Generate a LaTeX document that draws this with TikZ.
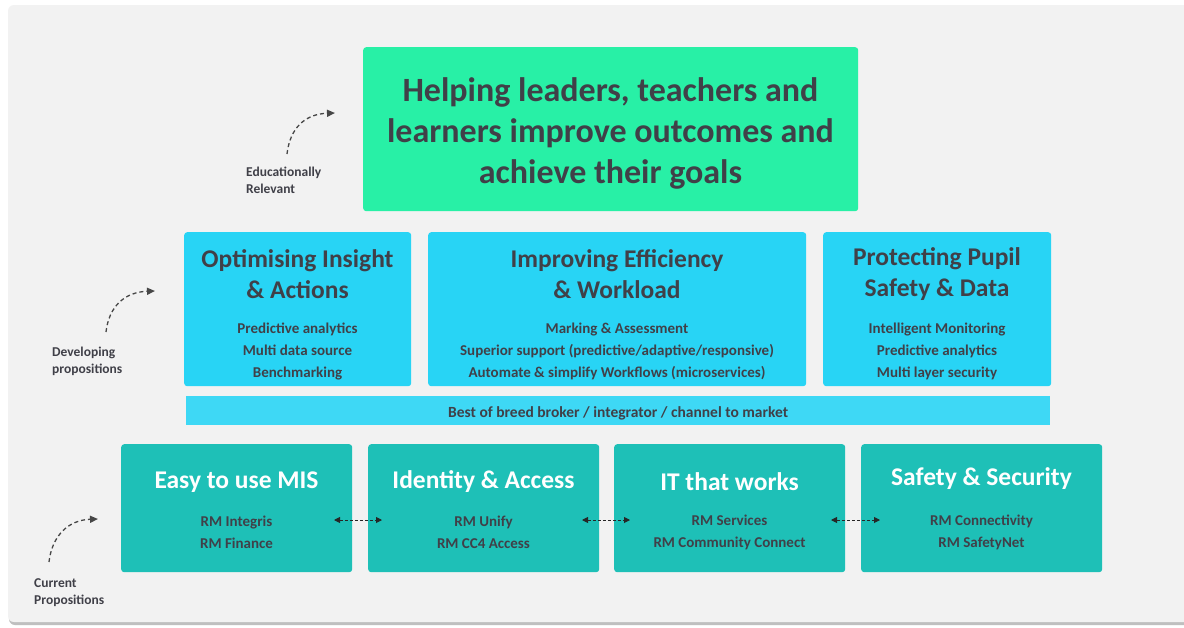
\documentclass[tikz,border=0pt]{standalone}
\usepackage{fontspec}
\setmainfont{Carlito}
\usetikzlibrary{arrows.meta,shadows}
\definecolor{bgpanel}{RGB}{242,242,242}
\definecolor{topgreen}{RGB}{40,240,166}
\definecolor{midcyan}{RGB}{40,212,245}
\definecolor{bandcyan}{RGB}{62,216,245}
\definecolor{teal}{RGB}{30,192,183}
\definecolor{txt}{RGB}{64,64,72}
\tikzset{
  box/.style={rounded corners=3pt, inner sep=0pt, draw=none},
  topbox/.style={box, fill=topgreen},
  midbox/.style={box, fill=midcyan},
  botbox/.style={box, fill=teal},
  bigtxt/.style={font=\bfseries\fontsize{34}{41}\selectfont, text=txt, align=center},
  midtitle/.style={font=\bfseries\fontsize{25.5}{31}\selectfont, text=txt, align=center},
  subtxt/.style={font=\bfseries\fontsize{15}{22}\selectfont, text=txt, align=center},
  bandtxt/.style={font=\bfseries\fontsize{15.5}{22}\selectfont, text=txt, align=center},
  bottitle/.style={font=\bfseries\fontsize{25.5}{28}\selectfont, text=white, align=center},
  lbl/.style={font=\bfseries\fontsize{13.5}{17}\selectfont, text=txt, align=left, anchor=north west, inner sep=0pt},
  curvarrow/.style={dash pattern=on 4pt off 3pt, line width=1.3pt, color=black!72, -{Triangle[length=8pt,width=7pt]}},
  dblarrow/.style={densely dashed, line width=0.9pt, color=black!85, {Triangle[length=6pt,width=6pt]}-{Triangle[length=6pt,width=6pt]}}
}
\begin{document}
\begin{tikzpicture}[x=1pt,y=-1pt]
\useasboundingbox (0,0) rectangle (1184,627);
\fill[white] (0,0) rectangle (1184,627);
% background panel with shadow
\fill[black!25, rounded corners=6pt] (9,7) rectangle (1190,625);
\fill[bgpanel, rounded corners=6pt] (8,5) rectangle (1190,622);

% top box
\node[topbox, minimum width=495pt, minimum height=164pt, anchor=north west] (top) at (363,47) {};
\node[bigtxt] (toptxt) at (610.5,133) {Helping leaders, teachers and\\learners improve outcomes and\\achieve their goals};

% middle boxes
\node[midbox, minimum width=227pt, minimum height=154pt, anchor=north west] (m1) at (184,232) {};
\node[midbox, minimum width=378pt, minimum height=154pt, anchor=north west] (m2) at (428,232) {};
\node[midbox, minimum width=228pt, minimum height=154pt, anchor=north west] (m3) at (823,232) {};
\node[midtitle] (m1t) at (297.5,274.5) {Optimising Insight\\\& Actions};
\node[midtitle] (m2t) at (617,274.5) {Improving Efficiency\\\& Workload};
\node[midtitle] (m3t) at (937,274.5) {Protecting Pupil\\Safety \& Data};
\node[subtxt] (m1s) at (297.5,351) {Predictive analytics\\Multi data source\\Benchmarking};
\node[subtxt] (m2s) at (617,351) {Marking \& Assessment\\Superior support (predictive/adaptive/responsive)\\Automate \& simplify Workflows (microservices)};
\node[subtxt] (m3s) at (937,351) {Intelligent Monitoring\\Predictive analytics\\Multi layer security};

% band
\node[fill=bandcyan, minimum width=864pt, minimum height=29pt, inner sep=0pt, anchor=north west] (band) at (186,396) {};
\node[bandtxt] (bandt) at ([yshift=-2.5pt]band.center) {Best of breed broker / integrator / channel to market};

% bottom boxes
\node[botbox, minimum width=231pt, minimum height=128pt, anchor=north west] (b1) at (121,444) {};
\node[botbox, minimum width=231pt, minimum height=128pt, anchor=north west] (b2) at (368,444) {};
\node[botbox, minimum width=231pt, minimum height=128pt, anchor=north west] (b3) at (614,444) {};
\node[botbox, minimum width=241pt, minimum height=128pt, anchor=north west] (b4) at (861,444) {};
\node[bottitle] (b1t) at (236.5,482) {Easy to use MIS};
\node[bottitle] (b2t) at (483.5,482) {Identity \& Access};
\node[bottitle] (b3t) at (729.5,482) {IT that works};
\node[bottitle] (b4t) at (981.5,479) {Safety \& Security};
\node[subtxt] (b1s) at (236.5,532.5) {RM Integris\\RM Finance};
\node[subtxt] (b2s) at (483.5,532.5) {RM Unify\\RM CC4 Access};
\node[subtxt] (b3s) at (729.5,532.5) {RM Services\\RM Community Connect};
\node[subtxt] (b4s) at (981.5,532.5) {RM Connectivity\\RM SafetyNet};

% double arrows between bottom boxes
\coordinate (d1a) at (334,520); \coordinate (d1b) at (382,520);
\coordinate (d2a) at (582,520); \coordinate (d2b) at (630,520);
\coordinate (d3a) at (831,520); \coordinate (d3b) at (880,520);
\draw[dblarrow] (d1a) -- (d1b);
\draw[dblarrow] (d2a) -- (d2b);
\draw[dblarrow] (d3a) -- (d3b);

% side labels with curved arrows
\node[lbl] (l1) at (246,167) {Educationally\\Relevant};
\node[lbl] (l2) at (52,347) {Developing\\propositions};
\node[lbl] (l3) at (34,578) {Current\\Propositions};
\coordinate (c1a) at (287,154); \coordinate (c1b) at (335,113);
\coordinate (c2a) at (106,332); \coordinate (c2b) at (155,291);
\coordinate (c3a) at (49,562); \coordinate (c3b) at (98,519);
\draw[curvarrow] (c1a) .. controls (290,128) and (305,114) .. (c1b);
\draw[curvarrow] (c2a) .. controls (109,306) and (125,292) .. (c2b);
\draw[curvarrow] (c3a) .. controls (52,536) and (68,520) .. (c3b);
\end{tikzpicture}
\end{document}
